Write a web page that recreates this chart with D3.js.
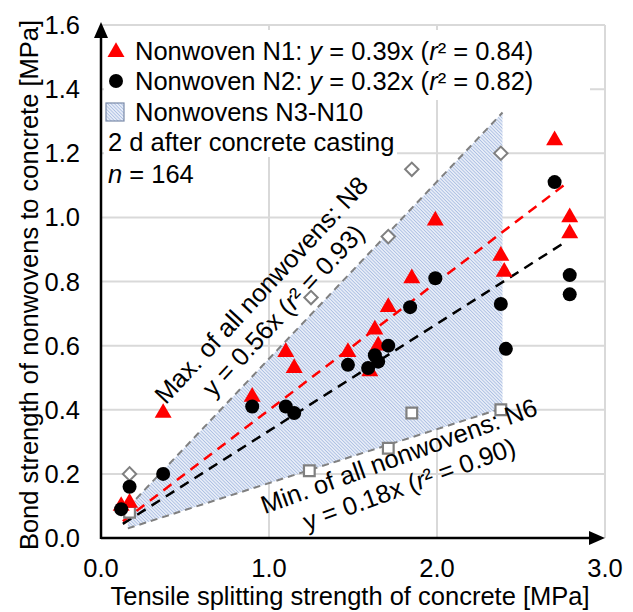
<!DOCTYPE html>
<html><head><meta charset="utf-8">
<script src="https://cdn.jsdelivr.net/npm/d3@7"></script>
<style>body{margin:0;background:#fff}svg{display:block}text{font-family:"Liberation Sans",Arial,sans-serif;fill:#000}</style>
</head><body>
<script>
// ---- data ----
const xTicks = [0.0, 1.0, 2.0, 3.0];
const yTicks = [0.0, 0.2, 0.4, 0.6, 0.8, 1.0, 1.2, 1.4, 1.6];
const n1X = [0.12,0.17,0.37,0.90,1.10,1.15,1.47,1.60,1.63,1.65,1.71,1.85,1.99,2.38,2.40,2.70,2.79,2.79];
const n1Y = [0.10,0.11,0.39,0.44,0.58,0.53,0.58,0.52,0.65,0.60,0.72,0.81,0.99,0.88,0.83,1.24,1.00,0.95];
const n2X = [0.12,0.17,0.37,0.90,1.10,1.15,1.47,1.59,1.63,1.65,1.71,1.84,1.99,2.38,2.41,2.70,2.79,2.79];
const n2Y = [0.09,0.16,0.20,0.41,0.41,0.39,0.54,0.53,0.57,0.55,0.60,0.72,0.81,0.73,0.59,1.11,0.82,0.76];
const n8X = [0.17,1.25,1.71,1.85,2.38];
const n8Y = [0.20,0.75,0.94,1.15,1.20];
const n6X = [0.17,1.24,1.71,1.85,2.38];
const n6Y = [0.08,0.21,0.28,0.39,0.40];
const trendN1 = [[0.13,0.052],[2.77,1.106]];
const trendN2 = [[0.13,0.044],[2.77,0.925]];
const bandUpper = [[0.16,0.095],[2.39,1.327]];
const bandLower = [[0.16,0.030],[2.39,0.405]];

const W=633,H=612;
const svg=d3.select("body").append("svg").attr("width",W).attr("height",H);
const defs=svg.append("defs");
const pat=defs.append("pattern").attr("id","hatch").attr("patternUnits","userSpaceOnUse")
  .attr("width",2.4).attr("height",2.4).attr("patternTransform","rotate(-45)");
pat.append("rect").attr("width",2.4).attr("height",2.4).attr("fill","#e6ecf7");
pat.append("line").attr("x1",0).attr("y1",0).attr("x2",0).attr("y2",2.4).attr("stroke","#90a9d9").attr("stroke-width",1.1);

const x=d3.scaleLinear().domain([0,3]).range([101,605]);
const y=d3.scaleLinear().domain([0,1.6]).range([538,25]);

// gridlines
const grid=svg.append("g").attr("stroke","#d9d9d9").attr("stroke-width",2);
grid.selectAll("line.v").data(xTicks.filter(d=>d>0)).join("line")
  .attr("x1",d=>x(d)).attr("x2",d=>x(d)).attr("y1",y(0)).attr("y2",y(1.6));
grid.selectAll("line.h").data(yTicks.filter(d=>d>0)).join("line")
  .attr("x1",x(0)).attr("x2",x(3)).attr("y1",d=>y(d)).attr("y2",d=>y(d));

// band
const ln=d3.line().x(d=>x(d[0])).y(d=>y(d[1]));
const bandPts=[bandUpper[0],bandUpper[1],bandLower[1],bandLower[0]];
svg.append("path").attr("d",ln(bandPts)+"Z").attr("fill","url(#hatch)");
[bandUpper,bandLower].forEach(l=>svg.append("path").attr("d",ln(l)).attr("stroke","#808080")
  .attr("stroke-width",2).attr("stroke-dasharray","7,5").attr("fill","none"));

// legend white boxes
svg.append("rect").attr("x",104).attr("y",30).attr("width",486).attr("height",70).attr("fill","#fff");
svg.append("rect").attr("x",104).attr("y",98).attr("width",293).attr("height",59).attr("fill","#fff");

// trend lines
svg.append("path").attr("d",ln(trendN1)).attr("stroke","#ff0000").attr("stroke-width",2.5).attr("stroke-dasharray","10,7").attr("fill","none");
svg.append("path").attr("d",ln(trendN2)).attr("stroke","#000").attr("stroke-width",2.5).attr("stroke-dasharray","10,7").attr("fill","none");

// open markers
const dSym=d3.symbol().type(d3.symbolSquare).size(90);
svg.append("g").selectAll("path").data(n8X.map((v,i)=>[v,n8Y[i]])).join("path")
  .attr("d",dSym).attr("transform",d=>`translate(${x(d[0])},${y(d[1])}) rotate(45)`)
  .attr("fill","#fff").attr("stroke","#808080").attr("stroke-width",2);
const sSym=d3.symbol().type(d3.symbolSquare).size(115);
svg.append("g").selectAll("path").data(n6X.map((v,i)=>[v,n6Y[i]])).join("path")
  .attr("d",sSym).attr("transform",d=>`translate(${x(d[0])},${y(d[1])})`)
  .attr("fill","#fff").attr("stroke","#808080").attr("stroke-width",2.2);

// N1 triangles
const tSym=d3.symbol().type(d3.symbolTriangle).size(125);
svg.append("g").selectAll("path").data(n1X.map((v,i)=>[v,n1Y[i]])).join("path")
  .attr("d",tSym).attr("transform",d=>`translate(${x(d[0])},${y(d[1])})`).attr("fill","#ff0000");
// N2 circles
svg.append("g").selectAll("circle").data(n2X.map((v,i)=>[v,n2Y[i]])).join("circle")
  .attr("cx",d=>x(d[0])).attr("cy",d=>y(d[1])).attr("r",7).attr("fill","#000");

// axes
const ax=svg.append("g");
ax.append("line").attr("x1",x(0)).attr("x2",x(3)-10).attr("y1",y(0)).attr("y2",y(0)).attr("stroke","#000").attr("stroke-width",2.5);
ax.append("line").attr("x1",x(0)).attr("x2",x(0)).attr("y1",y(0)+1).attr("y2",y(1.6)+10).attr("stroke","#000").attr("stroke-width",2.5);
ax.append("path").attr("d",`M${x(3)},${y(0)} l-16,-7 l0,14 Z`).attr("fill","#000");
ax.append("path").attr("d",`M${x(0)},${y(1.6)-3} l-7,16 l14,0 Z`).attr("fill","#000");

const fs=25.5;
svg.append("g").selectAll("text").data(yTicks).join("text")
  .attr("x",80).attr("y",d=>y(d)+9).attr("text-anchor","end").attr("font-size",fs).text(d=>d.toFixed(1));
svg.append("g").selectAll("text").data(xTicks).join("text")
  .attr("x",d=>x(d)).attr("y",577).attr("text-anchor","middle").attr("font-size",fs).text(d=>d.toFixed(1));

svg.append("text").attr("x",350).attr("y",605).attr("text-anchor","middle").attr("font-size",fs)
  .text("Tensile splitting strength of concrete [MPa]");
svg.append("text").attr("transform","translate(38,285) rotate(-90)").attr("text-anchor","middle").attr("font-size",fs)
  .text("Bond strength of nonwovens to concrete [MPa]");

// legend
svg.append("path").attr("d",tSym).attr("transform","translate(116,52)").attr("fill","#ff0000");
svg.append("circle").attr("cx",116).attr("cy",81).attr("r",7).attr("fill","#000");
svg.append("rect").attr("x",106).attr("y",103).attr("width",18).attr("height",18).attr("fill","url(#hatch)").attr("stroke","#7a8aa8").attr("stroke-width",1.2);

function richText(xp,yp,parts){
  const t=svg.append("text").attr("x",xp).attr("y",yp).attr("font-size",fs);
  parts.forEach(p=>t.append("tspan").attr("font-style",p[1]?"italic":"normal").text(p[0]));
  return t;
}
richText(135,60,[["Nonwoven N1: ",0],["y",1],[" = 0.39x (",0],["r",1],["² = 0.84)",0]]);
richText(135,90,[["Nonwoven N2: ",0],["y",1],[" = 0.32x (",0],["r",1],["² = 0.82)",0]]);
richText(135,121,[["Nonwovens N3-N10",0]]);
richText(108,151,[["2 d after concrete casting",0]]);
richText(108,183,[["n",1],[" = 164",0]]);

// rotated labels
const g1=svg.append("g").attr("transform","translate(272,300) rotate(-47)");
g1.append("text").attr("x",0).attr("y",-6).attr("text-anchor","middle").attr("font-size",fs).text("Max. of all nonwovens: N8");
const t1=g1.append("text").attr("x",0).attr("y",24).attr("text-anchor","middle").attr("font-size",fs);
t1.append("tspan").text("y = 0.56x (");t1.append("tspan").attr("font-style","italic").text("r");t1.append("tspan").text("² = 0.93)");

const g2=svg.append("g").attr("transform","translate(404,470) rotate(-20)");
g2.append("text").attr("x",0).attr("y",-6).attr("text-anchor","middle").attr("font-size",fs).text("Min. of all nonwovens: N6");
const t2=g2.append("text").attr("x",0).attr("y",24).attr("text-anchor","middle").attr("font-size",fs);
t2.append("tspan").text("y = 0.18x (");t2.append("tspan").attr("font-style","italic").text("r");t2.append("tspan").text("² = 0.90)");
</script>
</body></html>
